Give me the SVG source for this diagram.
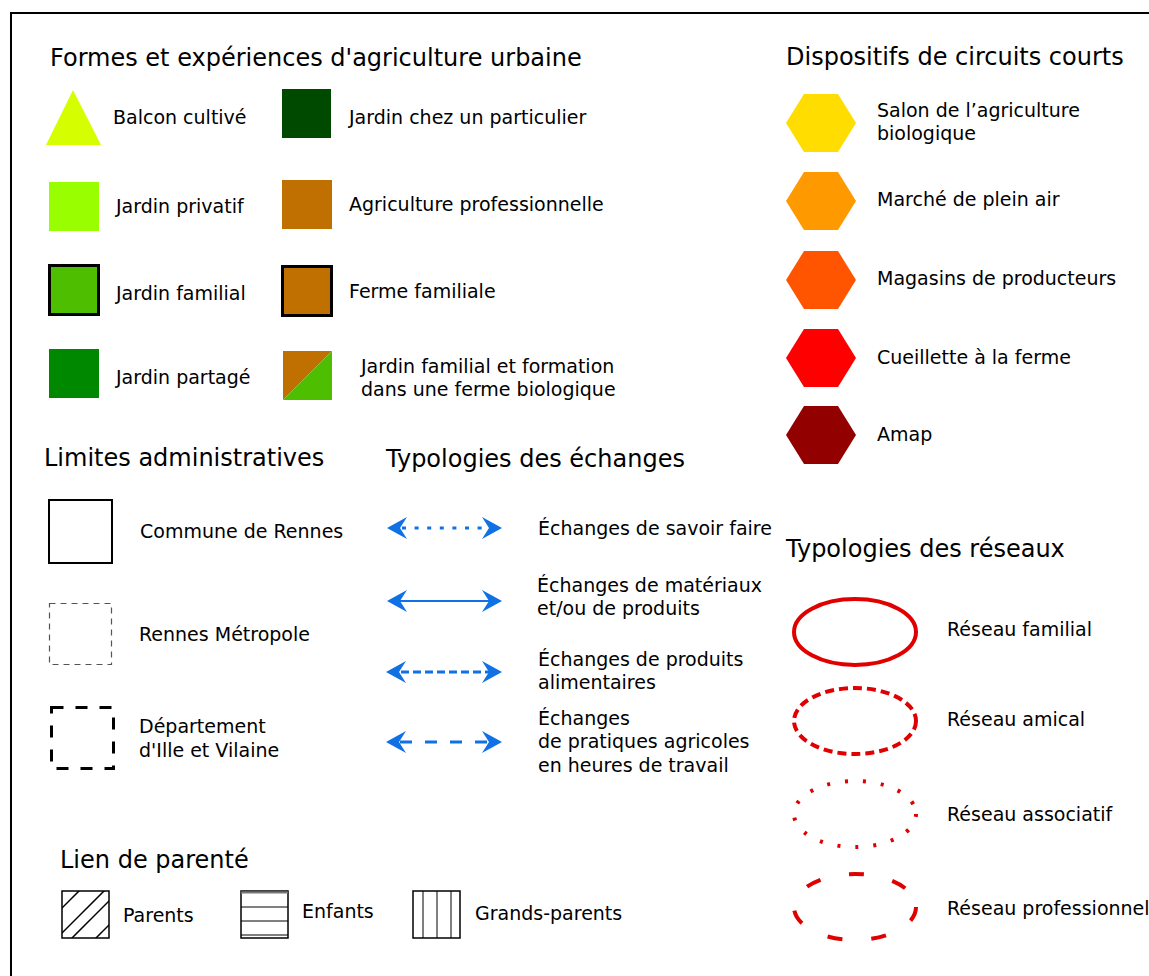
<svg xmlns="http://www.w3.org/2000/svg" width="1149" height="976" viewBox="0 0 1149 976">
<style>
text{font-family:"DejaVu Sans","Liberation Sans",sans-serif;fill:#000}
.t{font-size:24px}
.l{font-size:19px}
.arr{fill:#1071e5}
.aline{stroke:#1071e5;stroke-width:3;fill:none}
.thin{stroke-width:2}
.ell{fill:none;stroke:#e00000;stroke-width:4}
</style>
<defs>
<polygon id="hex" points="-35,0 -17,-29 17,-29 35,0 17,29 -17,29"/>
<path id="ahL" d="M0,0 L20,-11 L13,0 L20,11 Z"/>
<path id="ahR" d="M0,0 L-20,-11 L-13,0 L-20,11 Z"/>
<clipPath id="cpP"><rect x="62" y="891" width="47" height="47"/></clipPath>
</defs>
<rect width="1149" height="976" fill="#fff"/>
<path d="M11,976 V13 H1149" fill="none" stroke="#000" stroke-width="2"/>

<g id="sec-formes">
<text class="t" x="50" y="66">Formes et expériences d'agriculture urbaine</text>
<g id="balcon"><polygon points="73,90 46,145 101,145" fill="#d5ff00"/><text class="l" x="113" y="124">Balcon cultivé</text></g>
<g id="jprivatif"><rect x="49" y="182" width="50" height="49" fill="#99ff00"/><text class="l" x="116" y="213">Jardin privatif</text></g>
<g id="jfamilial"><rect x="49.5" y="265.5" width="49" height="49" fill="#4dbf00" stroke="#000" stroke-width="3"/><text class="l" x="116" y="300">Jardin familial</text></g>
<g id="jpartage"><rect x="49" y="349" width="50" height="49" fill="#008800"/><text class="l" x="116" y="384">Jardin partagé</text></g>
<g id="jparticulier"><rect x="282" y="89" width="49" height="49" fill="#004a00"/><text class="l" x="349" y="124">Jardin chez un particulier</text></g>
<g id="agripro"><rect x="282" y="180" width="50" height="49" fill="#c07000"/><text class="l" x="349" y="211">Agriculture professionnelle</text></g>
<g id="fermefam"><rect x="282.5" y="266.5" width="49" height="49" fill="#c07000" stroke="#000" stroke-width="3"/><text class="l" x="349" y="298">Ferme familiale</text></g>
<g id="jfamform"><polygon points="283,351 332,351 283,400" fill="#c07000"/><polygon points="332,351 332,400 283,400" fill="#4dbf00"/><text class="l" x="361" y="373">Jardin familial et formation</text><text class="l" x="361" y="396">dans une ferme biologique</text></g>
</g>

<g id="sec-limites">
<text class="t" x="44" y="466">Limites administratives</text>
<g id="commune"><rect x="49" y="500" width="63" height="63" fill="none" stroke="#000" stroke-width="2"/><text class="l" x="140" y="538">Commune de Rennes</text></g>
<g id="metropole"><rect x="49.5" y="603.5" width="62" height="61" fill="none" stroke="#555" stroke-width="1.2" stroke-dasharray="6,5"/><text class="l" x="139" y="641">Rennes Métropole</text></g>
<g id="departement"><rect x="51.5" y="707.5" width="62" height="61" fill="none" stroke="#000" stroke-width="3" stroke-dasharray="12,12"/><text class="l" x="139" y="733">Département</text><text class="l" x="139" y="757">d'Ille et Vilaine</text></g>
</g>

<g id="sec-echanges">
<text class="t" x="386" y="467">Typologies des échanges</text>
<text class="l" x="538" y="535">Échanges de savoir faire</text>
<text class="l" x="537" y="592">Échanges de matériaux</text>
<text class="l" x="537" y="615">et/ou de produits</text>
<text class="l" x="538" y="666">Échanges de produits</text>
<text class="l" x="538" y="689">alimentaires</text>
<text class="l" x="538" y="725">Échanges</text>
<text class="l" x="538" y="748">de pratiques agricoles</text>
<text class="l" x="538" y="772">en heures de travail</text>
</g>

<g id="connectors">
<line class="aline" x1="402" y1="528" x2="490" y2="528" stroke-dasharray="4,8.6"/>
<use href="#ahL" class="arr" x="387" y="528"/><use href="#ahR" class="arr" x="502" y="528"/>
<line class="aline thin" x1="400" y1="601" x2="490" y2="601"/>
<use href="#ahL" class="arr" x="387" y="601"/><use href="#ahR" class="arr" x="502" y="601"/>
<line class="aline" x1="401" y1="672" x2="490" y2="672" stroke-dasharray="8,4"/>
<use href="#ahL" class="arr" x="386" y="672"/><use href="#ahR" class="arr" x="502" y="672"/>
<line class="aline" x1="400" y1="742" x2="490" y2="742" stroke-dasharray="12,13"/>
<use href="#ahL" class="arr" x="386" y="742"/><use href="#ahR" class="arr" x="502" y="742"/>
</g>

<g id="sec-circuits">
<text class="t" x="786" y="65">Dispositifs de circuits courts</text>
<g id="salon"><use href="#hex" x="821" y="123" fill="#ffdd00"/><text class="l" x="877" y="117">Salon de l’agriculture</text><text class="l" x="877" y="140">biologique</text></g>
<g id="marche"><use href="#hex" x="821" y="201" fill="#ff9900"/><text class="l" x="877" y="206">Marché de plein air</text></g>
<g id="magasins"><use href="#hex" x="821" y="280" fill="#ff5500"/><text class="l" x="877" y="285">Magasins de producteurs</text></g>
<g id="cueillette"><use href="#hex" x="821" y="358" fill="#ff0000"/><text class="l" x="877" y="364">Cueillette à la ferme</text></g>
<g id="amap"><use href="#hex" x="821" y="435" fill="#920000"/><text class="l" x="877" y="441">Amap</text></g>
</g>

<g id="sec-reseaux">
<text class="t" x="786" y="557">Typologies des réseaux</text>
<g id="rfamilial"><ellipse class="ell" cx="855" cy="632" rx="61" ry="33"/><text class="l" x="947" y="636">Réseau familial</text></g>
<g id="ramical"><ellipse class="ell" cx="855" cy="721" rx="61" ry="33" stroke-dasharray="9,5"/><text class="l" x="947" y="726">Réseau amical</text></g>
<g id="rassociatif"><ellipse class="ell" cx="855" cy="814" rx="61" ry="33" stroke-dasharray="3,15"/><text class="l" x="947" y="821">Réseau associatif</text></g>
<g id="rpro"><ellipse class="ell" cx="855" cy="907" rx="61" ry="33" stroke-dasharray="15,29"/><text class="l" x="947" y="915">Réseau professionnel</text></g>
</g>

<g id="sec-parente">
<text class="t" x="60" y="868">Lien de parenté</text>
<g id="parents">
<g clip-path="url(#cpP)" stroke="#000" stroke-width="1.5">
<line x1="55" y1="915" x2="85" y2="885"/>
<line x1="55" y1="940" x2="108" y2="887"/>
<line x1="66" y1="944" x2="115" y2="895"/>
<line x1="90" y1="944" x2="115" y2="919"/>
</g>
<rect x="62" y="891" width="47" height="47" fill="none" stroke="#000" stroke-width="1.5"/>
<text class="l" x="123" y="922">Parents</text>
</g>
<g id="enfants">
<rect x="241" y="891" width="47" height="47" fill="none" stroke="#000" stroke-width="1.5"/>
<line x1="241" y1="892.5" x2="288" y2="892.5" stroke="#777" stroke-width="2"/>
<line x1="241" y1="907" x2="288" y2="907" stroke="#000" stroke-width="1"/>
<line x1="241" y1="921" x2="288" y2="921" stroke="#000" stroke-width="1"/>
<line x1="241" y1="935" x2="288" y2="935" stroke="#000" stroke-width="1"/>
<text class="l" x="302" y="918">Enfants</text>
</g>
<g id="grandsparents">
<rect x="413" y="891" width="47" height="47" fill="none" stroke="#000" stroke-width="1.5"/>
<line x1="423" y1="891" x2="423" y2="938" stroke="#000" stroke-width="1"/>
<line x1="437" y1="891" x2="437" y2="938" stroke="#000" stroke-width="1"/>
<line x1="451" y1="891" x2="451" y2="938" stroke="#000" stroke-width="1"/>
<text class="l" x="475" y="920">Grands-parents</text>
</g>
</g>
</svg>
